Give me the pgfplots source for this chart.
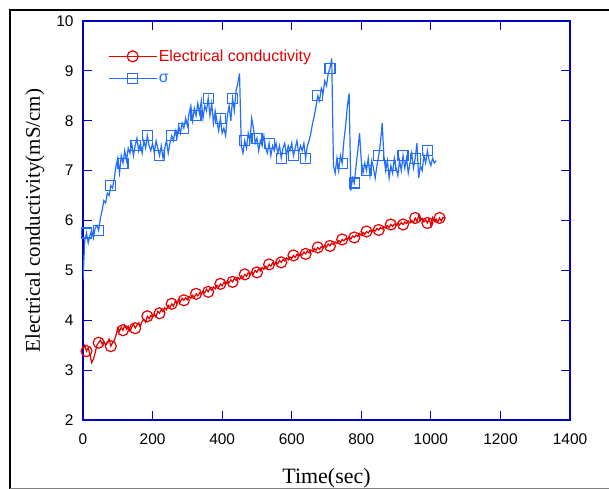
\documentclass[border=0pt]{standalone}
\usepackage{pgfplots}
\pgfplotsset{compat=1.18}
\usepackage{fontspec}
\setmainfont{Liberation Sans}
\newfontfamily\timesf{Liberation Serif}

\definecolor{ecred}{RGB}{228,0,0}
\definecolor{sigblue}{RGB}{35,110,255}
\definecolor{axblue}{RGB}{0,0,190}

\begin{document}
\begin{tikzpicture}
\useasboundingbox (0,0) rectangle (609bp,489bp);
\begin{axis}[
    at={(83bp,69bp)}, anchor=south west,
    scale only axis,
    width=487bp, height=399bp,
    xmin=0, xmax=1400, ymin=2, ymax=10,
    xtick={0,200,...,1400}, ytick={2,3,...,10},
    axis line style={axblue, line width=1.1bp},
    tick style={axblue, line width=1.1bp},
    major tick length=9bp,
    tick align=inside,
    /pgf/number format/assume math mode=true,
    /pgf/number format/1000 sep={},
    tick label style={font=\fontsize{15.5}{18}\selectfont},
    xticklabel style={yshift=-10bp},
    yticklabel style={xshift=-6bp},
    every axis x label/.style={at={(axis description cs:0.5,-0.145)}, anchor=center},
    every axis y label/.style={at={(axis description cs:-0.0986,0.5)}, rotate=90, anchor=center},
    xlabel={\timesf\fontsize{22}{26}\selectfont Time(sec)},
    ylabel={\timesf\fontsize{21}{25}\selectfont Electrical conductivity(mS/cm)},
    legend style={at={(0.045,0.937)}, anchor=north west, draw=none, fill=none,
        font=\fontsize{16}{19}\selectfont, row sep=8bp,
        nodes={inner sep=1.5bp}},
    legend cell align=left,
    legend image code/.code={
        \draw[mark repeat=2, mark phase=2, #1]
            plot coordinates {(0bp,0bp) (24bp,0bp) (48bp,0bp)};
    },
]
% electrical conductivity
\addplot[ecred, line width=1.2bp, mark=o, mark size=5.5bp, mark repeat=7, mark phase=3] coordinates {
(0,3.42) (5,3.5) (10,3.38) (15,3.45) (20,3.3) (25,3.15) (30,3.22) (35,3.35) (40,3.5) (45,3.55)
(50,3.6) (55,3.52) (60,3.58) (65,3.5) (70,3.55) (75,3.62) (80,3.48) (85,3.55) (90,3.6) (95,3.7)
(100,3.85) (105,3.78) (110,3.86) (115,3.8) (120,3.9) (125,3.82) (130,3.88) (135,3.78) (140,3.86) (145,3.92)
(150,3.84) (155,3.9) (160,3.95) (165,3.88) (170,3.98) (175,4.02) (180,3.96) (185,4.08) (190,4.03) (195,4.1)
(200,4.06) (205,4.12) (210,4.08) (215,4.18) (220,4.14) (225,4.22) (230,4.17) (235,4.25) (240,4.21) (245,4.3)
(250,4.26) (255,4.33) (260,4.28) (265,4.38) (270,4.33) (275,4.42) (280,4.37) (285,4.44) (290,4.4) (295,4.45)
(300,4.41) (305,4.48) (310,4.44) (315,4.5) (320,4.46) (325,4.53) (330,4.49) (335,4.55) (340,4.52) (345,4.58)
(350,4.55) (355,4.62) (360,4.57) (365,4.64) (370,4.6) (375,4.67) (380,4.63) (385,4.7) (390,4.66) (395,4.73)
(400,4.69) (405,4.76) (410,4.72) (415,4.79) (420,4.75) (425,4.81) (430,4.77) (435,4.84) (440,4.8) (445,4.86)
(450,4.82) (455,4.89) (460,4.85) (465,4.92) (470,4.88) (475,4.95) (480,4.91) (485,4.97) (490,4.93) (495,5.0)
(500,4.96) (505,5.03) (510,4.99) (515,5.06) (520,5.02) (525,5.08) (530,5.05) (535,5.12) (540,5.08) (545,5.15)
(550,5.11) (555,5.17) (560,5.13) (565,5.2) (570,5.16) (575,5.22) (580,5.19) (585,5.25) (590,5.21) (595,5.27)
(600,5.24) (605,5.3) (610,5.26) (615,5.32) (620,5.28) (625,5.34) (630,5.31) (635,5.37) (640,5.33) (645,5.39)
(650,5.35) (655,5.41) (660,5.38) (665,5.44) (670,5.4) (675,5.46) (680,5.42) (685,5.48) (690,5.45) (695,5.5)
(700,5.47) (705,5.53) (710,5.49) (715,5.55) (720,5.52) (725,5.57) (730,5.54) (735,5.6) (740,5.56) (745,5.62)
(750,5.59) (755,5.64) (760,5.61) (765,5.67) (770,5.63) (775,5.69) (780,5.66) (785,5.71) (790,5.68) (795,5.74)
(800,5.7) (805,5.76) (810,5.72) (815,5.78) (820,5.75) (825,5.8) (830,5.77) (835,5.82) (840,5.79) (845,5.84)
(850,5.81) (855,5.86) (860,5.83) (865,5.88) (870,5.85) (875,5.9) (880,5.86) (885,5.92) (890,5.88) (895,5.93)
(900,5.9) (905,5.95) (910,5.91) (915,5.96) (920,5.92) (925,5.97) (930,5.94) (935,5.99) (940,5.95) (945,6.0)
(950,5.96) (955,6.05) (960,5.98) (965,6.1) (970,6.0) (975,6.04) (980,5.97) (985,6.02) (990,5.95) (995,6.03)
(1000,5.9) (1005,6.06) (1010,5.98) (1015,6.03) (1020,5.97) (1025,6.05) (1030,5.99) (1035,6.06) (1040,6.04)
};
\addlegendentry[text=ecred]{Electrical conductivity}
% sigma
\addplot[sigblue, line width=1.2bp, mark=square, mark size=5bp, mark repeat=7, mark phase=3] coordinates {
(0,4.8) (5,5.6) (10,5.75) (15,5.55) (20,5.7) (25,5.8) (30,5.65) (35,5.85) (40,5.9) (45,5.8)
(50,6.05) (55,6.2) (60,6.4) (65,6.35) (70,6.55) (75,6.5) (80,6.7) (85,6.65) (90,6.85) (95,7.1)
(100,7.25) (105,6.95) (110,7.3) (115,7.15) (120,7.4) (125,7.2) (130,7.45) (135,7.35) (140,7.55) (145,7.3)
(150,7.5) (155,7.65) (160,7.4) (165,7.55) (170,7.35) (175,7.6) (180,7.45) (185,7.7) (190,7.5) (195,7.4)
(200,7.55) (205,7.35) (210,7.6) (215,7.45) (220,7.3) (225,7.5) (230,7.25) (235,7.45) (240,7.6) (245,7.35)
(250,7.55) (255,7.7) (260,7.6) (265,7.8) (270,7.65) (275,7.9) (280,7.75) (285,7.95) (290,7.85) (295,8.05)
(300,7.9) (305,8.15) (310,8.3) (315,8.0) (320,8.25) (325,8.1) (330,8.35) (335,8.15) (340,8.4) (345,8.05)
(350,8.3) (355,8.2) (360,8.45) (365,8.1) (370,8.35) (375,7.95) (380,8.2) (385,8.0) (390,7.8) (395,8.05)
(400,7.75) (405,7.85) (410,7.7) (415,8.1) (420,8.3) (425,8.0) (430,8.45) (435,8.2) (440,8.6) (445,8.75)
(450,8.95) (455,7.5) (460,7.35) (465,7.6) (470,7.45) (475,7.75) (480,7.6) (485,8.05) (490,7.85) (495,7.55)
(500,7.65) (505,7.4) (510,7.6) (515,7.5) (520,7.7) (525,7.45) (530,7.35) (535,7.55) (540,7.3) (545,7.5)
(550,7.4) (555,7.55) (560,7.35) (565,7.5) (570,7.25) (575,7.45) (580,7.55) (585,7.3) (590,7.5) (595,7.4)
(600,7.55) (605,7.3) (610,7.45) (615,7.6) (620,7.35) (625,7.5) (630,7.4) (635,7.55) (640,7.25) (645,7.5)
(650,7.6) (655,7.75) (660,7.95) (665,8.1) (670,8.3) (675,8.5) (680,8.4) (685,8.65) (690,8.55) (695,8.8)
(700,8.7) (705,8.95) (710,9.05) (715,9.25) (720,7.1) (725,6.95) (730,7.25) (735,7.0) (740,7.3) (745,7.15)
(750,7.6) (755,7.9) (760,8.3) (765,8.55) (770,6.6) (775,6.85) (780,6.75) (785,7.1) (790,7.4) (795,7.75)
(800,7.2) (805,6.95) (810,7.15) (815,7.0) (820,7.25) (825,6.9) (830,7.2) (835,7.05) (840,6.85) (845,7.1)
(850,7.3) (855,7.55) (860,7.95) (865,7.3) (870,7.0) (875,7.2) (880,6.85) (885,7.1) (890,6.95) (895,7.25)
(900,7.05) (905,6.9) (910,7.2) (915,7.0) (920,7.3) (925,7.05) (930,7.25) (935,6.95) (940,7.15) (945,7.35)
(950,7.05) (955,7.25) (960,7.55) (965,6.85) (970,7.1) (975,7.0) (980,7.3) (985,7.15) (990,7.4) (995,7.2)
(1000,7.1) (1005,7.25) (1010,7.15) (1015,7.2)
};
\addlegendentry[text=sigblue]{σ}
\end{axis}
% outer frame of the figure
\draw[black, line width=2.2bp] (10bp,0bp) -- (10bp,479bp) -- (620bp,479bp);
\draw[gray, line width=1bp] (10bp,1bp) -- (620bp,1bp);
\end{tikzpicture}
\end{document}
